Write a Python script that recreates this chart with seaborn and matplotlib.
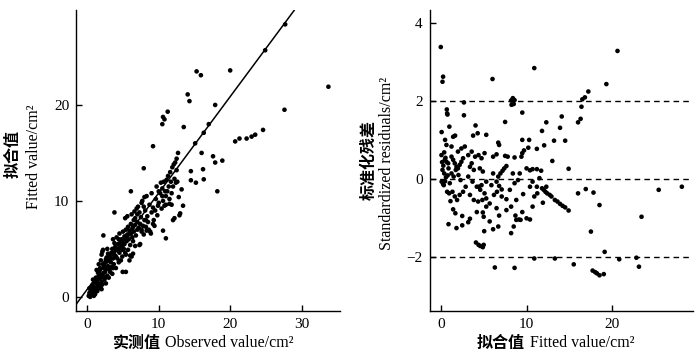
import matplotlib
matplotlib.use("Agg")
import matplotlib.pyplot as plt
import seaborn as sns
import pandas as pd

# ---------------- Left panel: observed vs fitted ----------------
obs_a = [0.2,0.3,0.4,0.5,0.6,0.7,0.8,0.9,1.0,1.0,0.5,0.8,0.3,1.1,0.9,0.6]
fit_a = [0.1,0.4,0.0,0.8,0.3,1.2,0.5,0.1,1.5,0.7,0.2,1.8,0.9,0.3,1.0,0.6]
obs_b = [1.2,1.3,1.4,1.5,1.5,1.6,1.7,1.8,1.8,1.9,2.0,2.0,1.3,1.6,1.1,1.9,2.0,1.7,1.4]
fit_b = [2.0,1.0,0.6,2.5,1.4,0.9,1.9,3.0,1.2,2.3,0.8,1.6,2.8,3.4,1.8,3.8,4.4,2.6,1.7]
obs_c = [2.1,2.2,2.2,2.3,2.4,2.5,2.5,2.6,2.7,2.8,2.8,2.9,3.0,2.1,2.6,2.9,2.3,2.7]
fit_c = [1.3,2.1,4.9,3.0,1.8,2.6,3.6,1.4,4.1,2.2,5.0,3.2,2.0,4.7,3.9,4.5,2.5,2.9]
obs_d = [3.1,3.2,3.3,3.4,3.5,3.5,3.6,3.7,3.8,3.9,4.0,4.0,3.3,3.6,3.9,3.2]
fit_d = [3.8,2.6,4.5,3.1,5.0,2.4,4.0,3.4,5.6,4.3,3.0,4.9,3.6,6.0,5.2,4.1]
obs_e = [4.1,4.2,4.3,4.4,4.5,4.5,4.6,4.7,4.8,4.9,5.0,5.0,4.3,4.7,4.4,4.9]
fit_e = [6.2,4.0,5.5,3.6,6.6,4.6,5.1,3.8,6.0,4.9,5.6,6.8,4.8,5.8,6.0,4.2]
obs_f = [5.1,5.2,5.3,5.4,5.5,5.6,5.7,5.8,5.9,6.0,6.0,5.3,5.6,5.9,5.2,5.7]
fit_f = [5.0,6.3,4.6,7.0,5.8,6.5,4.9,6.0,6.9,4.3,5.4,8.2,8.4,3.8,5.5,7.3]
obs_g = [6.1,6.2,6.3,6.4,6.5,6.6,6.7,6.8,6.9,7.0,6.3,6.7,7.0,6.5,6.2,6.4]
fit_g = [6.6,8.6,7.1,5.8,6.8,8.9,7.5,6.4,9.2,7.0,6.2,5.3,7.8,8.0,4.2,4.5]
obs_h = [7.1,7.2,7.3,7.4,7.5,7.6,7.7,7.8,7.9,8.0,7.6,7.4,8.0]
fit_h = [9.4,7.2,5.4,7.6,8.3,6.8,10.0,7.4,6.5,8.0,9.8,5.5,10.4]
obs_i = [8.1,8.2,8.3,8.4,8.6,8.7,8.8,9.0,9.0,8.5,8.9,8.3]
fit_i = [9.0,7.3,10.5,8.4,7.0,9.6,6.8,8.8,10.8,7.8,6.6,6.9]
obs_j = [9.2,9.3,9.5,9.6,9.8,9.9,10.0,9.4,9.7,10.0,9.2]
fit_j = [9.3,8.0,9.0,10.2,8.5,9.5,11.0,7.4,11.5,9.8,7.6]
obs_k = [10.2,10.3,10.4,10.5,10.6,10.7,10.8,10.9,11.0,10.5,11.0,10.6,11.0]
fit_k = [10.8,11.9,9.2,11.3,10.0,12.0,9.5,11.0,10.5,10.5,9.6,6.9,6.1]
obs_l = [11.1,11.2,11.3,11.4,11.5,11.6,11.7,11.8,11.9,12.0,12.0,11.8,11.5]
fit_l = [12.2,11.0,12.6,11.5,10.2,13.0,12.0,9.6,13.5,11.5,8.0,10.8,9.7]
obs_m = [12.1,12.2,12.3,12.4,12.5,12.6,12.7,12.8,12.9,13.0,12.2,12.5,13.2,13.4]
fit_m = [13.8,12.3,14.0,11.9,14.4,12.0,15.0,10.4,8.5,8.7,8.2,13.2,11.2,9.5]
obs_n = [33.75,27.7,24.9,20.0,15.3,15.9,14.05,14.3,17.9,27.6,11.25,10.6,10.8,10.5,13.5,
         17.0,16.3,15.1,24.6,23.5,23.0,22.3,21.3,20.7,9.2,16.0,17.6,18.9,17.9,16.2,14.5,
         7.9,14.5,15.2,16.3,18.2,6.1,3.8,2.25,4.95,5.4]
fit_n = [21.9,28.4,25.7,23.6,23.5,23.1,21.1,20.4,20.0,19.5,19.3,18.75,18.5,18.0,17.7,
         18.0,17.1,16.0,17.4,16.9,16.7,16.5,16.5,16.2,15.7,15.0,14.65,14.2,14.0,13.3,13.1,
         13.4,12.15,11.9,12.25,11.0,11.0,8.8,6.4,2.6,2.6]
obs_o = [0.4,0.7,1.0,1.3,1.6,1.9,2.2,2.5,2.8,3.1,3.4,3.7,4.0,4.3,4.6,4.9,5.2,5.5,5.8,6.1,
         6.4,6.7,7.0,7.3,7.6,7.9,8.2,1.1,1.8,2.4,3.0,3.6,4.2,4.8,5.4]
fit_o = [0.5,0.9,0.2,1.4,2.1,1.1,3.4,2.0,3.7,2.9,4.6,4.6,4.2,5.0,5.6,5.3,6.0,6.2,6.5,7.6,
         7.3,8.2,8.6,8.8,7.0,9.4,8.0,0.6,2.0,3.2,4.4,3.0,5.0,5.2,4.4]

line_x = [-1.54, 29.0]
line_y = [-0.75, 29.9]

# ---------------- Right panel: fitted vs standardized residuals ----------------
fv_1 = [0.0,0.27,0.2,0.1,0.7,0.74,0.78,0.08,0.4,0.47,0.66,0.86,0.2,0.4,0.6,0.1,0.27,0.5,0.74,0.97,0.66,0.5,0.3,0.9,0.15,0.55,0.8,0.35]
sr_1 = [3.39,2.63,2.50,1.21,1.79,1.69,1.66,0.62,0.69,0.50,0.45,0.41,0.24,0.15,0.05,-0.06,-0.12,-0.05,-0.32,-0.36,0.88,1.01,0.35,0.28,0.44,0.55,0.10,-0.15]
fv_2 = [1.0,1.44,1.67,0.9,1.83,2.5,2.5,1.7,1.44,2.7,2.7,1.25,1.44,1.63,1.83,2.0,2.2,2.4,2.6,2.8,1.25,1.5,1.75,2.06,2.3,1.05,1.36,1.63,1.9,2.2,2.6,2.9,1.13,2.4,2.0,1.25]
sr_2 = [1.35,1.09,1.12,-1.15,-1.25,-1.18,-0.94,-0.87,-0.77,1.97,1.64,0.58,0.50,0.41,0.32,0.28,0.37,0.45,0.54,0.84,0.15,0.07,0.24,0.11,-0.02,-0.10,-0.32,-0.44,-0.53,-0.40,-0.32,-0.19,-0.56,0.79,0.71,0.84]
fv_3 = [4.05,3.77,4.3,5.3,3.2,3.4,4.2,4.9,5.0,4.1,4.4,4.6,4.9,5.0,5.06,3.2,3.6,4.0,4.4,4.75,5.1,3.4,3.85,4.55,4.9,3.2,3.7,4.2,4.6,5.1,3.4,3.85,4.35,4.85,5.3,4.45,4.75,3.6,5.3,5.3]
sr_3 = [1.38,1.12,1.18,1.14,-1.10,-1.01,-0.84,-0.85,-0.96,-1.62,-1.68,-1.71,-1.74,-1.68,-1.33,0.62,0.71,0.58,0.62,0.54,0.67,0.32,0.24,0.28,0.20,0.07,-0.06,-0.19,-0.27,-0.36,-0.40,-0.53,-0.57,-0.53,-0.49,-0.19,-0.15,0.41,-0.06,-0.70]
fv_4 = [6.03,8.2,8.4,8.6,8.25,8.5,9.5,7.5,6.7,6.8,6.5,7.5,7.8,8.6,9.5,9.4,9.5,9.7,6.1,6.7,8.2,8.5,6.8,8.7,8.8,9.1,9.3,9.5,6.3,8.6,5.7,6.7,6.95,7.2,7.4,7.65,6.5,6.8,7.1,6.55,7.1,7.65,6.1,5.9,6.2,5.7,6.5,8.05,8.6,9.0,9.2,8.4,8.8,8.2,7.65,9.6,6.1]
sr_4 = [2.57,2.02,2.08,2.03,1.91,1.93,1.71,1.47,0.94,0.88,0.64,0.60,0.58,0.56,0.67,0.58,1.01,0.74,-1.28,-1.21,-1.38,-1.21,-0.93,-0.93,-1.04,-1.03,-1.04,-0.84,-2.26,-2.27,-1.08,0.07,0.15,0.22,0.28,0.34,-0.06,-0.17,-0.26,-0.32,-0.44,-0.51,0.15,-0.15,-0.40,-0.62,-0.74,-0.27,-0.10,-0.02,0.15,0.15,-0.53,-0.70,-0.79,-0.38,0.58]
fv_5 = [10.9,10.3,10.2,11.2,10.0,10.4,10.7,11.2,11.7,12.3,11.8,12.05,13.2,14.5,13.0,14.9,14.1,13.9,14.9,10.0,10.4,10.7,13.3,10.9,15.5,11.2,11.8,12.0,12.2,12.4,12.7,12.9,13.3,13.6,13.9,14.2,14.5,11.9,10.9,11.25,10.4,10.7,11.5,12.3]
sr_5 = [2.85,1.01,0.81,0.78,0.28,0.23,0.26,0.26,0.22,1.46,1.24,0.87,0.99,0.99,0.47,0.27,1.61,1.32,-0.80,-1.0,-1.03,-0.70,-2.03,-2.03,-2.18,-0.19,-0.23,-0.27,-0.32,-0.36,-0.40,-0.44,-0.53,-0.57,-0.63,-0.68,-0.72,-0.60,-0.44,-0.36,-0.19,-0.06,0.03,-0.19]
fv_6 = [20.6,19.3,17.2,16.8,16.5,16.4,16.3,16.0,16.0,16.9,17.8,18.5,25.4,28.1,23.4,17.5,19.1,20.8,22.8,23.1,17.7,18.0,18.2,18.5,19.0]
sr_6 = [3.29,2.44,2.25,2.10,2.05,1.86,1.55,1.46,-0.36,-0.25,-0.34,-0.66,-0.27,-0.19,-0.96,-1.34,-1.86,-2.05,-2.01,-2.24,-2.34,-2.38,-2.41,-2.46,-2.43]

ref_levels = [-2, 0, 2]

left_x_ticks = [0, 10, 20, 30]
left_y_ticks = [0, 10, 20]
right_x_ticks = [0, 10, 20]
right_y_ticks = [-2, 0, 2, 4]

# ---------------- build frames ----------------
left_df = pd.DataFrame({
    "obs": obs_a + obs_b + obs_c + obs_d + obs_e + obs_f + obs_g + obs_h + obs_i + obs_j
           + obs_k + obs_l + obs_m + obs_n + obs_o,
    "fit": fit_a + fit_b + fit_c + fit_d + fit_e + fit_f + fit_g + fit_h + fit_i + fit_j
           + fit_k + fit_l + fit_m + fit_n + fit_o,
})
right_df = pd.DataFrame({
    "fv": fv_1 + fv_2 + fv_3 + fv_4 + fv_5 + fv_6,
    "sr": sr_1 + sr_2 + sr_3 + sr_4 + sr_5 + sr_6,
})
line_df = pd.DataFrame({"x": line_x, "y": line_y})

sns.set_style("ticks")
plt.rcParams["font.family"] = ["Liberation Serif", "Noto Sans CJK SC"]
plt.rcParams["axes.unicode_minus"] = True

fig = plt.figure(figsize=(7.0, 3.56), dpi=100)
ax1 = fig.add_axes([0.109, 0.126, 0.377, 0.846])
ax2 = fig.add_axes([0.614, 0.127, 0.376, 0.845])

sns.scatterplot(data=left_df, x="obs", y="fit", ax=ax1, color="black", s=11,
                linewidth=0, edgecolor="none")
sns.lineplot(data=line_df, x="x", y="y", ax=ax1, color="black", linewidth=1.1)

sns.scatterplot(data=right_df, x="fv", y="sr", ax=ax2, color="black", s=11,
                linewidth=0, edgecolor="none")
for lv in ref_levels:
    ax2.axhline(lv, color="black", linewidth=1.0, dashes=(4, 3))

ax1.set_xlim(-1.54, 35.4)
ax1.set_ylim(-1.49, 29.9)
ax1.set_xticks(left_x_ticks)
ax1.set_yticks(left_y_ticks)
ax2.set_xlim(-1.28, 29.4)
ax2.set_ylim(-3.37, 4.34)
ax2.set_xticks(right_x_ticks)
ax2.set_yticks(right_y_ticks)

for ax in (ax1, ax2):
    sns.despine(ax=ax)
    for sp in ("left", "bottom"):
        ax.spines[sp].set_linewidth(1.0)
        ax.spines[sp].set_color("black")
    ax.tick_params(direction="in", length=4, width=1.0, color="black",
                   labelsize=11, labelcolor="black", pad=5)
    for lab in ax.get_xticklabels() + ax.get_yticklabels():
        lab.set_family("Liberation Serif")
    ax.set_xlabel("")
    ax.set_ylabel("")

cn = dict(family=["Noto Sans CJK SC"], fontweight="bold", fontsize=11.5, color="black")
en = dict(family=["Liberation Serif"], fontsize=11.5, color="black")

# left labels
fig.text(12.5 / 700, 1 - 154 / 356, "拟合值", rotation=90, ha="center", va="center", **cn)
fig.text(34 / 700, 1 - 157 / 356, "Fitted value/cm²", rotation=90, ha="center", va="center", **en)
fig.text(161 / 700, 1 - 343 / 356, "实测值", ha="right", va="center", **cn)
fig.text(165 / 700, 1 - 343 / 356, "Observed value/cm²", ha="left", va="center", **en)

# right labels
fig.text(369 / 700, 1 - 160 / 356, "标准化残差", rotation=90, ha="center", va="center", **cn)
fig.text(387 / 700, 1 - 163 / 356, "Standardized residuals/cm²", rotation=90, ha="center", va="center", **en)
fig.text(525 / 700, 1 - 343 / 356, "拟合值", ha="right", va="center", **cn)
fig.text(530 / 700, 1 - 343 / 356, "Fitted value/cm²", ha="left", va="center", **en)

fig.savefig("out.png", dpi=100)
